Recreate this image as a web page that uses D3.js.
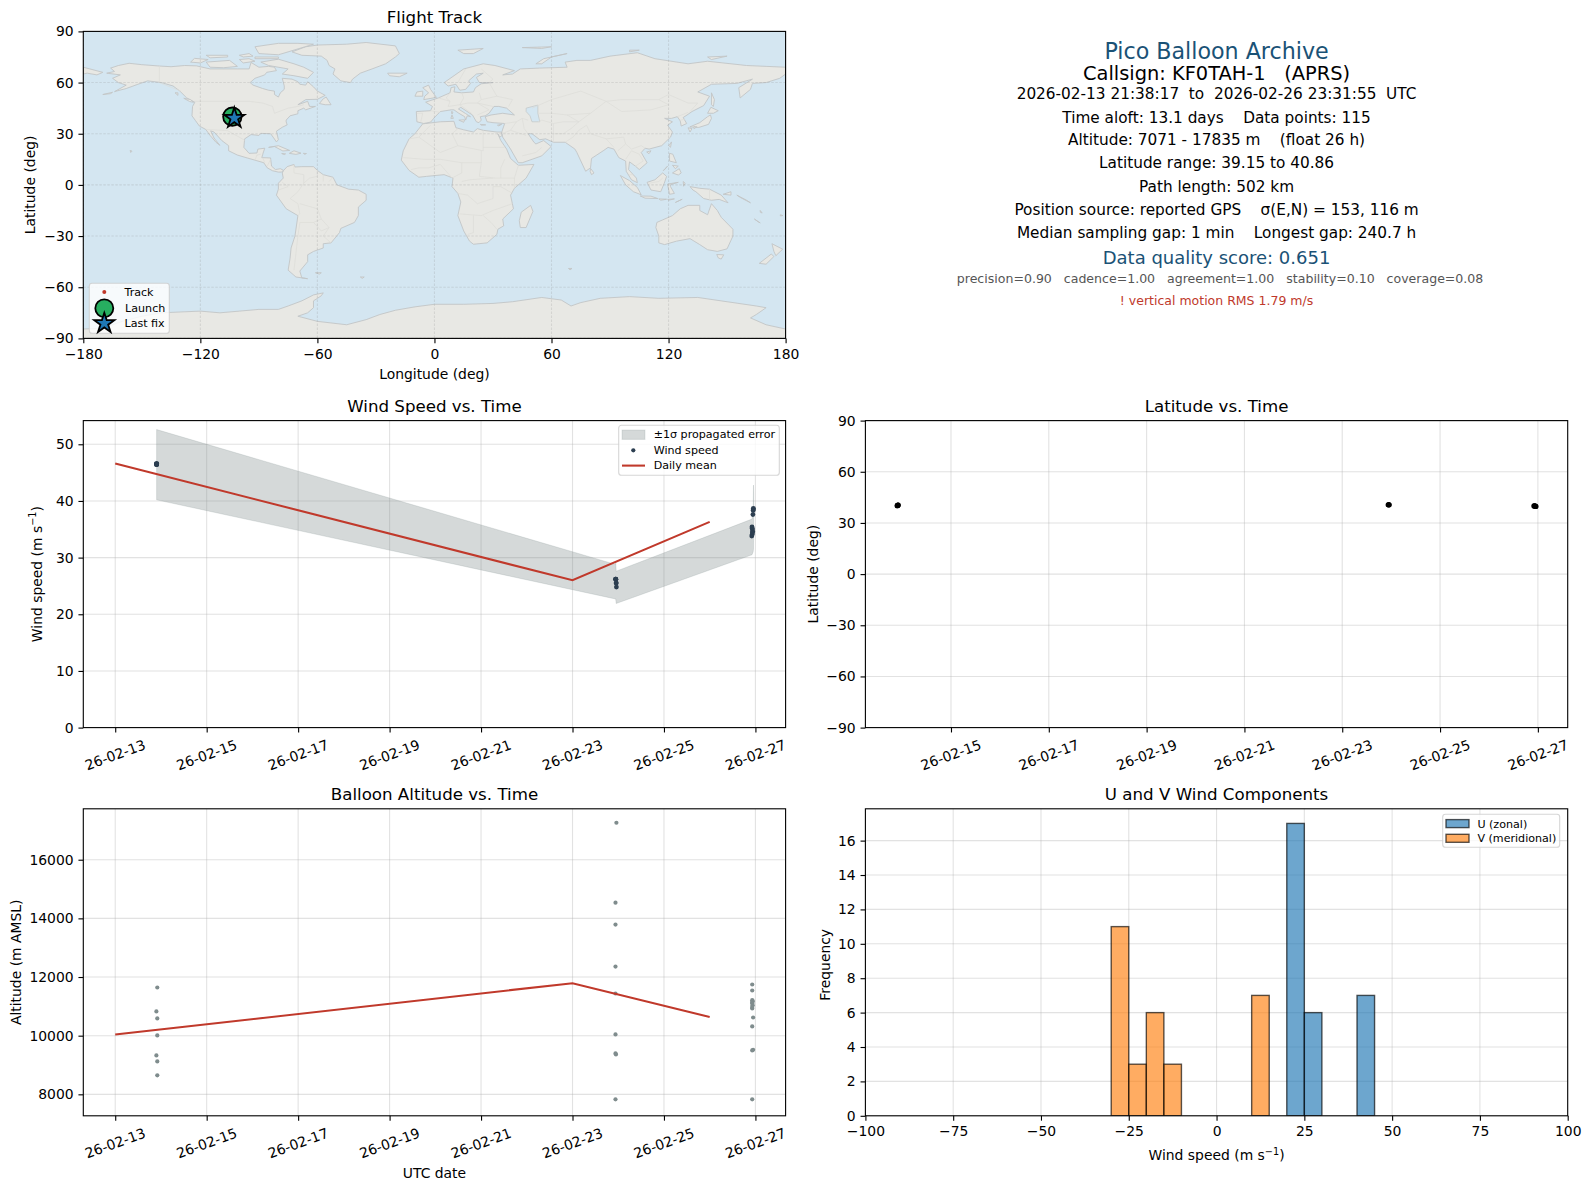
<!DOCTYPE html>
<html><head><meta charset="utf-8">
<script src="https://cdnjs.cloudflare.com/ajax/libs/d3/7.8.5/d3.min.js"></script>
<style>html,body{margin:0;padding:0;background:#fff}svg{display:block}text{font-family:"DejaVu Sans",sans-serif;fill:#000}</style>
</head><body><svg id="c" width="1589" height="1189"></svg>
<script>
// ---- data (days are days of February 2026) ----
const windDays=[13.905,13.905,13.905,13.905,13.905,13.905,13.905,23.94,23.945,23.95,23.955,23.955,23.96,26.955,26.955,26.95,26.945,26.925,26.93,26.935,26.94,26.92,26.93,26.935];
const windVals=[46.4,46.5,46.6,46.5,46.4,46.6,46.5,26.2,26.2,26.2,25.5,25.5,24.8,38.7,38.5,38.3,37.6,35.4,35.2,34.9,34.6,33.8,34.1,34.4];
const bandDays=[13.905,23.94,23.945,23.955,26.925,26.95,26.958,26.962];
const bandHi=[52.6,28.8,29.3,27.6,36.8,38.0,42.8,41.0];
const bandLo=[40.2,22.7,22.7,21.9,30.5,31.0,31.5,35.0];
const dailyDays=[13,23,26];
const dailyWind=[46.6,26.0,36.3];
const dailyAlt=[10040,11790,10640];
const altDays=[13.92,13.90,13.92,13.92,13.90,13.92,13.92,23.96,23.94,23.94,23.94,23.94,23.94,23.94,23.95,23.94,26.93,26.93,26.93,26.94,26.93,26.93,26.94,26.93,26.93,26.95,26.93,26.93,26.95,26.93];
const altVals=[11643,10826,10587,10008,9328,9123,8647,17260,14536,13787,12357,11438,10043,9396,9362,7830,11745,11540,11210,11176,11132,11098,11040,10982,10928,10620,10315,9497,9518,7830];
const latDays=[13.90,13.905,13.91,13.915,13.92,23.94,23.95,23.96,26.92,26.93,26.94,26.95,26.96];
const latVals=[40.1,40.2,40.3,40.4,40.5,40.6,40.7,40.6,40.0,39.95,39.9,39.8,39.7];
const trackLon=[-103.6,-103.4,-103.1,-102.8,-102.6];
const trackLat=[40.0,40.4,40.86,39.9,39.15];
const launch=[-103.6,40.0];
const lastFix=[-102.6,39.15];
const vBins=[-30,-25,-20,-15,10];
const vCounts=[11,3,6,3,7];
const uBins=[20,25,40];
const uCounts=[17,6,7];
const dateTicks=[13,15,17,19,21,23,25,27];
const lonTicks=[-180,-120,-60,0,60,120,180];
const latTicks=[-90,-60,-30,0,30,60,90];
const windTicks=[0,10,20,30,40,50];
const altTicks=[8000,10000,12000,14000,16000];
const histXTicks=[-100,-75,-50,-25,0,25,50,75,100];
const histYTicks=[0,2,4,6,8,10,12,14,16];
const infoLines=[
 ["Pico Balloon Archive",50.7,22.2,"#1a5276",0],
 ["Callsign: KF0TAH-1   (APRS)",73,19.4,"#000",0],
 ["2026-02-13 21:38:17  to  2026-02-26 23:31:55  UTC",94.2,15.3,"#000",0],
 ["Time aloft: 13.1 days    Data points: 115",117.5,15.3,"#000",0],
 ["Altitude: 7071 - 17835 m    (float 26 h)",140.4,15.3,"#000",0],
 ["Latitude range: 39.15 to 40.86",163,15.3,"#000",0],
 ["Path length: 502 km",186.5,15.3,"#000",0],
 ["Position source: reported GPS    σ(E,N) = 153, 116 m",209.8,15.3,"#000",0],
 ["Median sampling gap: 1 min    Longest gap: 240.7 h",232.6,15.3,"#000",0],
 ["Data quality score: 0.651",257.4,18,"#1a5276",0],
 ["precision=0.90   cadence=1.00   agreement=1.00   stability=0.10   coverage=0.08",278,12.55,"#555",3.5],
 ["! vertical motion RMS 1.79 m/s",300.6,12.5,"#c0392b",0]
];
// ---- map geometry (lon, lat) ----
const land=[
[[-168,65.5],[-164,66.5],[-166,68.5],[-162,70],[-156.5,71.3],[-150,70.5],[-141,69.7],[-135,69.3],[-128,70],[-122,69.8],[-115,68],[-108,68],[-101,68],[-95,68],[-94,71.8],[-90,69],[-85,69.5],[-82,69],[-81,67],[-86,66],[-87,64.5],[-92,62.5],[-94.5,60],[-93,58.5],[-88,56.5],[-85,55.5],[-82,55],[-82,53],[-80,51.5],[-79,54],[-77,56],[-77,58],[-78,62.5],[-73,62],[-70,60.5],[-69,59],[-66,58.5],[-65,60.5],[-62,57.5],[-60,55],[-56,52.5],[-60,50.2],[-66,50],[-70,47],[-65,49],[-64.5,47.5],[-64,46],[-61,46],[-66,44],[-67,45],[-70,43.5],[-70,41.7],[-74,40.5],[-76,38],[-76,37],[-75.5,35.2],[-78,33.8],[-81,31.5],[-80,26.5],[-81,25.2],[-82.7,28],[-84,30],[-89,30.2],[-90,29],[-94,29.5],[-97.3,27],[-97.7,22],[-95,18.5],[-91,18.7],[-90.5,21],[-87,21.5],[-88,18],[-88.5,16],[-84,15.8],[-83.5,11],[-81.5,9],[-79,9.5],[-77.3,8.5],[-78.5,7.5],[-80,7.5],[-83,8.3],[-85.7,10],[-87.5,13],[-92,14.5],[-96,15.8],[-101,17.5],[-105.5,20],[-105.5,23],[-109,26],[-113,31],[-114.7,31.7],[-113,27.5],[-110,23.2],[-112,25],[-115,29],[-117.2,32.5],[-120.5,34.5],[-122.5,37.7],[-124.3,40.5],[-124,46],[-122.8,48.5],[-127,51],[-130.5,55],[-134,58],[-140,60],[-147,61],[-152,59],[-158,56.5],[-164,54.7],[-158,58.5],[-162,60],[-165,62.5],[-161,64.5]],
[[-73,78],[-66,81],[-60,82],[-45,82.5],[-35,83.5],[-20,81.5],[-18,77],[-20,75],[-25,71],[-32,68],[-38,65.5],[-42,62],[-43,60],[-48,61],[-52,65],[-51,68],[-54,70],[-55,73],[-58,75.5],[-68,76],[-73,78]],
[[-80,73.7],[-72,71],[-67,69],[-62,66],[-65,62.5],[-72,64],[-78,65],[-75,68],[-85,70],[-89,72]],
[[-117,72],[-105,73],[-101,69.5],[-108,68.7],[-115,69]],
[[-90,77],[-80,76.3],[-75,78],[-62,82.5],[-70,83],[-80,83],[-92,81]],
[[-125,72],[-123,74.2],[-116,73.5],[-120,71.5]],
[[-92,75],[-80,75],[-80,74],[-92,74]],
[[-117,76],[-106,76],[-106,75],[-115,74.5]],
[[-100,76],[-95,77],[-93,75.5],[-98,75]],
[[-100,73.5],[-95,74],[-92,72.5],[-98,71.5]],
[[-59,47.7],[-57,50.5],[-55.5,51.5],[-53,47],[-56,47]],
[[-85,22],[-80,23],[-74.2,20.2],[-77.7,19.9],[-82,22.5]],
[[-74.4,18.5],[-72,20],[-68.4,18.6],[-71,17.9]],
[[-78.3,18.4],[-76.3,18.2],[-77,17.8]],
[[-67.2,18.5],[-65.6,18.4],[-66.5,17.9]],
[[-156,20.2],[-155,19.8],[-155.7,19]],
[[-133,54],[-131.5,54],[-131.5,52.5]],
[[-128.5,50.8],[-125,50],[-123.5,48.4],[-125.5,48.9]],
[[-170,53],[-165,54.3],[-166,53.5]],
[[-77.3,8.5],[-75.5,10.7],[-72,12],[-71.5,10.5],[-68,10.7],[-62,10.7],[-60,8.5],[-57,6],[-52,4.5],[-50,0],[-44,-2.5],[-39,-3],[-35,-5.5],[-35,-9],[-39,-13],[-39,-18],[-41,-22],[-48,-25.5],[-48.7,-28],[-53,-34],[-57,-34.5],[-57,-37],[-62,-39],[-65,-41],[-65,-45],[-69,-50.5],[-68,-54.5],[-65,-55],[-71,-54],[-75,-50],[-74,-43],[-73.5,-37],[-71.5,-30],[-70,-18],[-76,-14],[-81,-6],[-80,-2.5],[-80,1],[-77.5,4],[-78,7]],
[[-61,-51.5],[-58,-51.5],[-59,-52.3]],
[[-6,35.8],[3,37],[10,37.3],[11,33.5],[15,32.3],[20,31],[22,33],[25,32],[32,31],[34.3,31],[34.7,29],[33.5,28],[32.5,30],[34,26],[37,21],[39,15.5],[43,11.5],[51,12],[47,4],[41,-2],[39,-6],[40.5,-14],[35,-20],[35.5,-24],[32.5,-26],[32,-29],[27,-34],[20,-34.8],[18,-33],[15,-27],[12,-18],[13.5,-10],[12,-5],[9,-1],[9.5,4],[5,6],[-4,5],[-8,4.5],[-13,8.5],[-17,14.5],[-16,20],[-13,27],[-10,30]],
[[-9,37],[-9.3,43],[-2,43.5],[-1,46],[-4.5,48.5],[2,51],[8,54],[8.5,57],[10.5,57.5],[10,54.5],[14,54],[20,54.5],[21,57],[24,59.3],[30,60],[23,60],[21.5,63],[25,65.5],[21.5,65],[17.5,61],[18.5,59.5],[16,56],[13,55.5],[11,59],[7,58],[5,60],[10,64],[15,68],[25,71],[31,70],[41,67],[35,64.5],[40,65],[44,68],[54,68.5],[68,69],[67,72],[73,73],[80,73],[90,75.5],[104,77.5],[113,74],[130,71],[140,72.5],[160,70],[170,69.5],[180,69],[180,65],[177,62.5],[170,60],[163,59.5],[162,56],[156.7,51],[156,57],[163,62],[155,59.5],[142,59],[135,54.5],[141,52],[138,46.5],[132,43],[129.5,41],[127.5,39.5],[129.3,36],[126.5,34.5],[126,37.5],[124.5,40],[121.5,39],[118,39],[122,37],[119.5,35],[122,31],[121,28],[116.5,23],[110,21],[108,21.5],[106,19],[109,13],[105,9],[103,11],[100,13.5],[99.5,9],[103.5,4],[104,1.3],[101,3],[98.3,8],[98,14],[94.5,16],[92,21],[89,22],[86.5,20],[80.5,15.5],[80,10],[77.5,8],[73,19],[72,21],[67,25],[61,25],[57,27],[54,26.5],[50,30],[48,30],[51,25],[52,24],[56,26],[59.8,22.5],[55,17],[45,13],[43,13],[39,21],[35,28],[34.5,31],[36,36],[30,36.5],[27,37],[26,40],[29,41],[35,42],[41,41],[38,44],[37,45],[33,46],[30.5,46],[28,42],[26,40.5],[23.5,40],[24,38],[22.8,36.5],[21.5,37],[19.5,41],[13.5,45.5],[12.3,44.5],[16,41.8],[18.5,40],[16.8,40.5],[16,38],[15.5,40],[12.5,42],[10,44],[8.5,44],[3,43],[0,39.5],[-2,36.8],[-5.5,36]],
[[-180,69],[-175,67.5],[-170,66],[-173,64.5],[-178,65.5],[-180,65]],
[[-5.5,50],[1,51.3],[-2,56],[-3,58.5],[-6,57],[-3,54],[-5,52]],
[[-10,52],[-6,52],[-6,55],[-9,54.5]],
[[-24,65.5],[-14,65.5],[-18,63.4],[-23,64]],
[[12,79],[25,80],[20,77],[15,77]],
[[52,71],[56,74],[68,77],[60,75],[55,71]],
[[45,80.5],[60,81],[55,80]],
[[100,79],[105,79],[100,78]],
[[140,75],[150,75.5],[142,73.5]],
[[142,54],[143.5,50],[143,46],[142,47]],
[[130.9,34],[136,36.5],[140,40],[141.5,41],[142,39],[140.5,35.5],[135.5,33.7]],
[[140,42],[141.7,45.5],[145.5,43.5],[143,42]],
[[130,33.5],[132,33],[131,31]],
[[133,34.2],[134.5,34],[133,33]],
[[120.2,23],[121.5,25.2],[121,22]],
[[108.8,19.3],[111,20],[110,18.3]],
[[120.5,18.5],[122.2,18],[124,13],[120.5,14]],
[[122,7],[125.5,9.5],[126.5,7],[125,5.8]],
[[122,11.5],[125,11],[123.5,9.5]],
[[117.3,8.4],[119.5,11],[118,9]],
[[95.3,5.5],[100,2.5],[104,-1.5],[106,-5.8],[102,-4],[98,0]],
[[105.5,-6.5],[111,-6.6],[114.5,-8],[108,-7.8]],
[[115,-8.2],[119,-8.4],[116,-9]],
[[119.5,-8.5],[123,-8.2],[120,-9]],
[[109,1.5],[113,3],[117,7],[119,5],[117.8,1],[116,-4],[111,-3]],
[[119.5,0.5],[125,1.5],[121,0.2],[121,-1],[123,-5],[120.5,-5.5]],
[[127.5,2],[128.5,1],[127.7,-0.8]],
[[124,-10],[127,-8.4],[123.5,-10.3]],
[[131,-1],[136,-2],[141,-2.5],[147,-6],[150.5,-10.5],[146,-8.5],[142,-9],[138,-8],[134,-4],[132.5,-3]],
[[148,-5.5],[152,-4],[152,-6]],
[[155,-6],[160,-9],[162,-10.5],[157,-7.5]],
[[164,-20],[167,-22.3],[166,-21.7]],
[[167,-15],[168,-16.5],[167,-16]],
[[177.3,-17.5],[178.6,-18],[177.3,-18.2]],
[[114,-22],[117,-20.5],[122,-18],[126,-14],[130,-12],[136,-12],[136,-15],[140,-17.5],[142,-11],[145,-15],[147,-19],[153,-26],[153,-30],[150,-37.5],[145,-39],[140,-38],[136,-35],[131,-31.5],[124,-33],[118,-35],[115,-34],[115,-30],[113.5,-25]],
[[144.7,-40.8],[148.3,-41],[147,-43.5],[145.5,-42.8]],
[[173,-34.5],[178.5,-37.7],[175,-41.5],[174,-39]],
[[172.7,-40.5],[174,-42],[170,-46.5],[166.5,-46]],
[[49.3,-12],[50.5,-15.5],[47,-25],[44,-25],[43.5,-21],[44.5,-16]],
[[80,9.7],[81.8,7],[80.5,6],[79.8,8]],
[[68.7,-49],[70.5,-49],[69.5,-49.8]],
[[-38,-54],[-36,-54],[-37,-54.8]],
[[9,41],[9.7,39],[8.4,39]],
[[8.7,43],[9.5,42.7],[9,41.5]],
[[12.5,38],[15.5,38.2],[15,36.7]],
[[23.5,35.5],[26.3,35.2],[24,35]],
[[32.3,35],[34.5,35.6],[33,34.6]],
[[-180,-84.5],[-170,-84],[-160,-80],[-150,-77],[-140,-75],[-130,-74.5],[-120,-74],[-110,-75],[-100,-74],[-90,-73],[-80,-73],[-75,-71],[-68,-68],[-62,-64.5],[-57,-63.3],[-58,-65],[-62,-68],[-62,-72],[-65,-75],[-70,-77],[-60,-80],[-45,-82],[-35,-79],[-28,-76],[-20,-73.5],[-10,-71.5],[0,-70],[15,-70],[30,-69.5],[40,-68.5],[55,-66],[65,-67.5],[70,-71],[75,-69],[85,-66.5],[100,-65.5],[115,-66.5],[135,-66],[150,-68.5],[165,-71],[170,-72],[165,-76],[162,-78],[170,-82],[180,-84.5],[180,-90],[-180,-90]]
];
const waterBodies=[
[[47,45],[53,46.8],[53,42],[54,37],[50,37],[49,40.5],[47,43]]
];
const borders=[
[[-141,69.7],[-141,60],[-130,55]],[[-123,49],[-95,49],[-88,48],[-83,46],[-82,42],[-75,45],[-70,46],[-67,47]],
[[-117,32.5],[-106,31.8],[-97,26]],[[-92,14.5],[-91,17.5],[-89,18]],[[-88,16],[-87,13]],[[-84,15],[-85.7,11]],
[[-72,12],[-72,7],[-67,6],[-67,1],[-70,-4],[-74,-8],[-70,-11],[-69,-17],[-70,-18]],[[-80,-3],[-75,-1],[-78,1.5]],[[-60,8.5],[-60,5],[-64,4],[-67,1]],[[-57,6],[-57,2]],[[-52,4.5],[-54,2]],
[[-69,-11],[-60,-14],[-58,-20],[-54,-25],[-57,-30],[-53,-34]],[[-69,-22],[-62,-22],[-58,-20]],[[-70,-30],[-69,-22]],[[-71,-40],[-70,-30]],[[-72,-50],[-71,-40]],[[-62,-22],[-58,-27],[-54,-25]],
[[-2,35],[-8,28],[-13,27]],[[-8,28],[3,19],[12,23],[25,20],[25,32]],[[25,22],[36,22]],[[12,33],[9,30],[12,23]],[[-16,16],[-5,15],[3,15],[14,13],[24,13],[24,20]],[[24,13],[23,5],[31,4],[41,4]],[[36,15],[34,10],[34,4]],[[43,11.5],[41,4],[41,-2]],[[-12,9],[-8,10],[-3,10],[3,12],[9,4]],[[14,13],[14,7],[9,4]],[[14,2],[18,3],[30,4]],[[12,-5],[17,-6],[22,-11],[30,-8],[30,-1],[34,-1],[40,-5]],[[13,-17],[24,-18],[30,-15],[40,-11]],[[20,-18],[20,-28],[17,-29]],[[25,-18],[29,-22],[32,-26]],
[[2,51],[8,49],[7,46],[13,47],[17,48],[22,48],[30,46]],[[8,54],[6,51],[8,49]],[[14,54],[15,51],[13,47]],[[23,54],[24,50],[22,48]],[[-9,41.9],[-6,42],[-7,37]],[[-2,43.5],[3,42.5]],[[28,60],[32,52],[24,50]],[[32,52],[40,50],[38,46]],[[13,47],[19,42]],[[22,48],[28,44],[22,41]],[[24,68],[30,62],[28,60]],[[16,68],[12,60]],
[[36,36],[42,37],[45,39],[48,38]],[[42,37],[39,32],[34.5,30]],[[39,32],[47,29]],[[45,39],[46,33],[48,30]],[[45,17],[52,19],[55,22]],[[61,25],[61,36],[55,38],[53,37]],[[61,30],[66,30],[70,33],[74,37],[66,37],[61,36]],[[67,25],[71,28],[74,32],[78,35]],[[50,45],[60,50],[75,55],[88,49],[96,50],[115,50],[120,53],[130,48],[135,48],[131,43]],[[53,42],[60,42],[68,41],[74,37]],[[68,41],[80,42],[74,37]],[[80,42],[88,49]],[[88,49],[96,43],[111,44],[120,47],[115,50]],[[78,35],[80,30],[88,27],[97,28],[98,24],[101,21],[106,23],[108,21.5]],[[88,27],[92,22]],[[98,24],[94,20]],[[98,15],[101,20],[105,18],[107,14],[103,11]],[[124.5,40],[130,42.5]],[[126,38],[128.5,38.5]],[[100,6],[102,6]],[[110,1],[115,2],[117,4]],[[141,-2.5],[141,-9]]
];
// ---- layout ----
const svg=d3.select("#c");
const L=83.3,W=702.3,R2=865.4,H=307,T1=31.4,T2=420.6,T3=808.8;
const FS=13.9,TITLE=16.67,LEG=11.1;
const day=d=>new Date(Date.UTC(2026,1,1)+(d-1)*864e5);
const fmtDate=d3.utcFormat("%y-%m-%d");
const minus=s=>String(s).replace("-","\u2212");
let uid=0;
function panel(x,y){
  const id="clip"+(uid++);
  const g=svg.append("g").attr("transform",`translate(${x},${y})`);
  g.append("clipPath").attr("id",id).append("rect").attr("width",W).attr("height",H);
  const plot=g.append("g").attr("clip-path",`url(#${id})`);
  return {g,plot};
}
function grid(p,sx,xt,sy,yt,dash,col,op){
  const gl=p.plot.append("g").attr("class","grid").attr("stroke",col||"#b0b0b0").attr("stroke-opacity",op||0.36).attr("stroke-width",1.1).attr("fill","none");
  if(dash)gl.attr("stroke-dasharray",dash);
  xt.forEach(t=>gl.append("line").attr("x1",sx(t)).attr("x2",sx(t)).attr("y1",0).attr("y2",H));
  yt.forEach(t=>gl.append("line").attr("y1",sy(t)).attr("y2",sy(t)).attr("x1",0).attr("x2",W));
}
function frame(p,sx,xt,sy,yt,xfmt,rot){
  const ax=d3.axisBottom(sx).tickValues(xt).tickSize(4.86).tickPadding(5.6).tickSizeOuter(0).tickFormat(xfmt);
  const ay=d3.axisLeft(sy).tickValues(yt).tickSize(4.86).tickPadding(4.86).tickSizeOuter(0).tickFormat(minus);
  const gx=p.g.append("g").attr("transform",`translate(0,${H})`).call(ax);
  const gy=p.g.append("g").call(ay);
  [gx,gy].forEach(a=>{a.select(".domain").remove();a.selectAll("line").attr("stroke","#000").attr("stroke-width",1.11);
    a.selectAll("text").attr("font-size",FS).attr("font-family","DejaVu Sans").attr("fill","#000");});
  if(rot){gx.selectAll("text").attr("text-anchor","middle").attr("y",0).attr("dy",0)
    .attr("transform","translate(-0.5,27.3) rotate(-20)").attr("dominant-baseline","central");}
  p.g.append("rect").attr("width",W).attr("height",H).attr("fill","none").attr("stroke","#000").attr("stroke-width",1.11);
}
function title(p,t){p.g.append("text").attr("x",W/2).attr("y",-8.4).attr("text-anchor","middle").attr("font-size",TITLE).text(t);}
function xlabel(p,t,dy){p.g.append("text").attr("x",W/2).attr("y",H+dy).attr("text-anchor","middle").attr("font-size",FS).text(t);}
function ylabel(p,t,x,dy){p.g.append("text").attr("transform",`translate(${x},${H/2+(dy||0)}) rotate(-90)`).attr("text-anchor","middle").attr("dominant-baseline","central").attr("font-size",FS).text(t);}
function windLabel(sel){sel.text("");sel.append("tspan").text("Wind speed (m s");sel.append("tspan").attr("dy",-5).attr("font-size",FS*0.7).text("\u22121");sel.append("tspan").attr("dy",5).text(")");}
function legendBox(p,x,y,w,h){p.g.append("rect").attr("x",x).attr("y",y).attr("width",w).attr("height",h).attr("rx",2.8).attr("fill","#fff").attr("fill-opacity",.8).attr("stroke","#ccc").attr("stroke-opacity",.8).attr("stroke-width",1.1);}
function legText(p,x,y,t){p.g.append("text").attr("x",x).attr("y",y).attr("dominant-baseline","central").attr("font-size",LEG).text(t);}
const star5=r=>d3.lineRadial().angle((d,i)=>i*Math.PI/5).radius((d,i)=>i%2?r*0.381966:r).curve(d3.curveLinearClosed)(d3.range(10));

// ---- Flight track ----
{
 const p=panel(L,T1);
 const sx=d3.scaleLinear().domain([-180,180]).range([0,W]);
 const sy=d3.scaleLinear().domain([-90,90]).range([H,0]);
 p.plot.append("rect").attr("width",W).attr("height",H).attr("fill","#d4e6f1");
 const line=d3.line().x(d=>sx(d[0])).y(d=>sy(d[1]));
 p.plot.append("g").selectAll("path").data(land).join("path").attr("d",d=>line(d)+"Z").attr("fill","#e8e8e4").attr("stroke","#c2c5c6").attr("stroke-width",.9).attr("stroke-linejoin","round");
 p.plot.append("g").selectAll("path").data(waterBodies).join("path").attr("d",d=>line(d)+"Z").attr("fill","#d4e6f1").attr("stroke","#c2c5c6").attr("stroke-width",.7);
 p.plot.append("g").selectAll("path").data(borders).join("path").attr("d",line).attr("fill","none").attr("stroke","#dcdcd8").attr("stroke-width",.7);
 grid(p,sx,lonTicks,sy,latTicks,"2.5,1.5","#8f8f8f",.22);
 p.plot.append("g").selectAll("circle").data(trackLon).join("circle").attr("cx",d=>sx(d)).attr("cy",(d,i)=>sy(trackLat[i])).attr("r",2).attr("fill","#c0392b");
 p.plot.append("circle").attr("cx",sx(launch[0])).attr("cy",sy(launch[1])).attr("r",9.2).attr("fill","#27ae60").attr("stroke","#000").attr("stroke-width",1.8);
 p.plot.append("path").attr("transform",`translate(${sx(lastFix[0])},${sy(lastFix[1])})`).attr("d",star5(10.6)).attr("fill","#1f77b4").attr("stroke","#000").attr("stroke-width",1.8);
 frame(p,sx,lonTicks,sy,latTicks,minus,false);
 title(p,"Flight Track");xlabel(p,"Longitude (deg)",41);ylabel(p,"Latitude (deg)",-52.9);
 legendBox(p,6,251.9,80,50);
 p.g.append("circle").attr("cx",21).attr("cy",260.6).attr("r",2).attr("fill","#c0392b");
 p.g.append("circle").attr("cx",21).attr("cy",276.9).attr("r",9).attr("fill","#27ae60").attr("stroke","#000").attr("stroke-width",1.8);
 p.g.append("path").attr("transform","translate(21,292)").attr("d",star5(10.6)).attr("fill","#1f77b4").attr("stroke","#000").attr("stroke-width",1.8);
 legText(p,41.2,261,"Track");legText(p,41.8,277.3,"Launch");legText(p,41.2,292.3,"Last fix");
}
// ---- Info text ----
svg.append("g").selectAll("text").data(infoLines).join("text").attr("x",d=>R2+W/2+d[4]).attr("y",d=>d[1]).attr("text-anchor","middle").attr("dominant-baseline","central").attr("font-size",d=>d[2]).attr("xml:space","preserve").style("white-space","pre").style("fill",d=>d[3]).text(d=>d[0]);
// ---- Wind ----
const timeDomain1=[day(12.302),day(27.66)];
{
 const p=panel(L,T2);
 const sx=d3.scaleUtc().domain(timeDomain1).range([0,W]);
 const sy=d3.scaleLinear().domain([0,54.18]).range([H,0]);
 const ticks=dateTicks.map(day);
 grid(p,sx,ticks,sy,windTicks);
 p.plot.append("path").attr("d",d3.area().x((d,i)=>sx(day(d))).y0((d,i)=>sy(bandLo[i])).y1((d,i)=>sy(bandHi[i]))(bandDays)).attr("fill","#7f8c8d").attr("fill-opacity",.33).attr("stroke","#7f8c8d").attr("stroke-opacity",.2).attr("stroke-width",1);
 p.plot.append("g").selectAll("circle").data(windDays).join("circle").attr("cx",d=>sx(day(d))).attr("cy",(d,i)=>sy(windVals[i])).attr("r",2.4).attr("fill","#2c3e50");
 p.plot.append("path").attr("d",d3.line().x(d=>sx(day(d))).y((d,i)=>sy(dailyWind[i]))(dailyDays)).attr("fill","none").attr("stroke","#c0392b").attr("stroke-width",2.08);
 frame(p,sx,ticks,sy,windTicks,fmtDate,true);
 title(p,"Wind Speed vs. Time");
 p.g.append("text").attr("transform",`translate(-46,${H/2}) rotate(-90)`).attr("text-anchor","middle").attr("dominant-baseline","central").attr("font-size",FS).call(windLabel);
 legendBox(p,535.4,4.7,160.6,50);
 p.g.append("rect").attr("x",538.7).attr("y",9.4).attr("width",23).attr("height",9.4).attr("fill","#7f8c8d").attr("fill-opacity",.33).attr("stroke","#7f8c8d").attr("stroke-opacity",.2);
 p.g.append("circle").attr("cx",550).attr("cy",29.7).attr("r",2.1).attr("fill","#2c3e50");
 p.g.append("line").attr("x1",538.7).attr("x2",561.7).attr("y1",45).attr("y2",45).attr("stroke","#c0392b").attr("stroke-width",2.08);
 legText(p,570.4,14.4,"\u00b11\u03c3 propagated error");legText(p,570.4,29.7,"Wind speed");legText(p,570.4,45,"Daily mean");
}
// ---- Latitude ----
{
 const p=panel(R2,T2);
 const sx=d3.scaleUtc().domain([day(13.25),day(27.61)]).range([0,W]);
 const sy=d3.scaleLinear().domain([-90,90]).range([H,0]);
 const ticks=dateTicks.slice(1).map(day);
 grid(p,sx,ticks,sy,latTicks);
 p.plot.append("g").selectAll("circle").data(latDays).join("circle").attr("cx",d=>sx(day(d))).attr("cy",(d,i)=>sy(latVals[i])).attr("r",2.6).attr("fill","#000");
 frame(p,sx,ticks,sy,latTicks,fmtDate,true);
 title(p,"Latitude vs. Time");ylabel(p,"Latitude (deg)",-52.7);
}
// ---- Altitude ----
{
 const p=panel(L,T3);
 const sx=d3.scaleUtc().domain(timeDomain1).range([0,W]);
 const sy=d3.scaleLinear().domain([7268,17736]).range([H,0]);
 const ticks=dateTicks.map(day);
 grid(p,sx,ticks,sy,altTicks);
 p.plot.append("g").selectAll("circle").data(altDays).join("circle").attr("cx",d=>sx(day(d))).attr("cy",(d,i)=>sy(altVals[i])).attr("r",2.1).attr("fill","#7f8c8d");
 p.plot.append("path").attr("d",d3.line().x(d=>sx(day(d))).y((d,i)=>sy(dailyAlt[i]))(dailyDays)).attr("fill","none").attr("stroke","#c0392b").attr("stroke-width",2.08);
 frame(p,sx,ticks,sy,altTicks,fmtDate,true);
 title(p,"Balloon Altitude vs. Time");xlabel(p,"UTC date",62.5);ylabel(p,"Altitude (m AMSL)",-67);
}
// ---- Histogram ----
{
 const p=panel(R2,T3);
 const binW=5;
 const sx=d3.scaleLinear().domain([-100,100]).range([0,W]);
 const sy=d3.scaleLinear().domain([0,17.85]).range([H,0]);
 grid(p,sx,histXTicks,sy,histYTicks);
 const bars=(bins,counts,col)=>p.plot.append("g").selectAll("rect").data(bins).join("rect")
   .attr("x",d=>sx(d)).attr("width",d=>sx(d+binW)-sx(d)).attr("y",(d,i)=>sy(counts[i])).attr("height",(d,i)=>H-sy(counts[i]))
   .attr("fill",col).attr("fill-opacity",.65).attr("stroke","#000").attr("stroke-opacity",.65).attr("stroke-width",1.39);
 bars(uBins,uCounts,"#1f77b4");
 bars(vBins,vCounts,"#ff7f0e");
 frame(p,sx,histXTicks,sy,histYTicks,minus,false);
 title(p,"U and V Wind Components");
 p.g.append("text").attr("x",W/2).attr("y",H+44).attr("text-anchor","middle").attr("font-size",FS).call(windLabel);
 ylabel(p,"Frequency",-40.4,2.5);
 legendBox(p,577.3,5.5,117,33);
 [["U (zonal)","#1f77b4",15.5],["V (meridional)","#ff7f0e",30.2]].forEach(r=>{
   p.g.append("rect").attr("x",580.6).attr("y",r[2]-4.7).attr("width",23).attr("height",8).attr("fill",r[1]).attr("fill-opacity",.65).attr("stroke","#000").attr("stroke-opacity",.65).attr("stroke-width",1.39);
   legText(p,612,r[2],r[0]);
 });
}
</script></body></html>
